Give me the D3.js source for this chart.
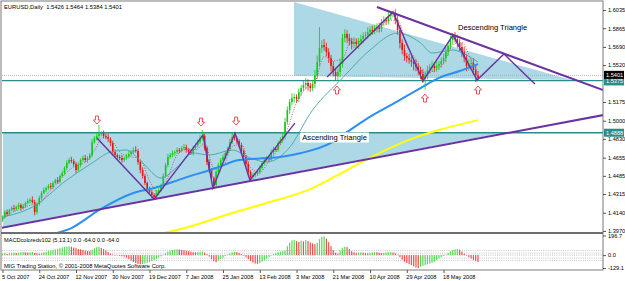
<!DOCTYPE html>
<html><head><meta charset="utf-8">
<script src="https://cdn.jsdelivr.net/npm/d3@7"></script>
<style>body{margin:0;background:#fff}svg{display:block}text{font-family:"Liberation Sans",Arial,sans-serif}</style>
</head><body><svg id="c" width="625" height="281"></svg>
<script>
// ---------------- DATA ----------------
const title = "EURUSD,Daily  1.5426 1.5464 1.5384 1.5401";
const firstOpen = 1.4080;
const closes = [
1.4100,1.4146,1.4128,1.4165,1.4184,1.4175,1.4193,1.4212,1.4184,1.4203,
1.4231,1.4249,1.4259,1.4240,1.4146,1.4221,1.4277,1.4324,1.4352,1.4371,
1.4389,1.4380,1.4418,1.4446,1.4430,1.4483,1.4511,1.4558,1.4605,1.4633,
1.4623,1.4595,1.4539,1.4586,1.4633,1.4651,1.4633,1.4651,1.4679,1.4801,
1.4838,1.4857,1.4876,1.4885,1.4857,1.4848,1.4829,1.4792,1.4707,1.4679,
1.4661,1.4651,1.4633,1.4651,1.4670,1.4689,1.4707,1.4726,1.4717,1.4614,
1.4539,1.4483,1.4418,1.4361,1.4333,1.4305,1.4287,1.4324,1.4352,1.4389,
1.4483,1.4586,1.4661,1.4679,1.4698,1.4707,1.4726,1.4720,1.4745,1.4754,
1.4726,1.4707,1.4698,1.4745,1.4773,1.4801,1.4838,1.4857,1.4745,1.4614,
1.4539,1.4464,1.4399,1.4520,1.4586,1.4633,1.4661,1.4698,1.4736,1.4801,
1.4848,1.4838,1.4810,1.4773,1.4717,1.4661,1.4595,1.4520,1.4474,1.4492,
1.4502,1.4520,1.4558,1.4605,1.4633,1.4651,1.4640,1.4707,1.4736,1.4730,
1.4792,1.4820,1.4857,1.4988,1.5100,1.5175,1.5212,1.5222,1.5205,1.5268,
1.5306,1.5334,1.5353,1.5325,1.5306,1.5343,1.5427,1.5549,1.5680,1.5708,
1.5689,1.5642,1.5586,1.5512,1.5455,1.5418,1.5455,1.5530,1.5773,1.5811,
1.5773,1.5745,1.5717,1.5736,1.5717,1.5745,1.5764,1.5792,1.5801,1.5829,
1.5848,1.5839,1.5867,1.5876,1.5860,1.5923,1.5941,1.5930,1.5979,1.5998,
1.6007,1.5941,1.5848,1.5727,1.5661,1.5605,1.5586,1.5568,1.5549,1.5530,
1.5502,1.5474,1.5437,1.5390,1.5427,1.5474,1.5502,1.5512,1.5493,1.5512,
1.5530,1.5558,1.5586,1.5642,1.5699,1.5755,1.5783,1.5764,1.5727,1.5689,
1.5642,1.5586,1.5512,1.5530,1.5540,1.5474,1.5426,1.5401];
// wick lengths in pips above max(open,close) / below min(open,close)
const wickUp = [
15,20,25,12,18,30,14,22,16,20, 12,25,18,35,20,15,22,18,25,14,
20,30,16,12,28,15,20,18,25,22, 30,18,20,25,16,22,30,18,20,25,
18,30,84,20,25,22,30,18,20,25, 15,20,28,18,22,30,20,25,35,20,
18,25,20,15,22,18,20,28,16,22, 25,20,30,18,22,16,25,20,18,28,
22,18,25,20,16,22,30,56,20,18, 25,20,16,28,22,18,25,20,22,30,
46,25,20,18,22,16,20,25,18,22, 20,16,25,18,22,20,18,25,20,16,
22,25,30,40,35,28,45,30,25,35, 30,40,45,35,30,40,50,60,196,45,
55,40,35,30,45,40,35,50,40,45, 35,40,30,45,35,30,40,35,30,45,
35,40,30,35,40,30,35,30,40,25, 12,35,45,40,35,50,30,40,35,30,
40,35,30,45,35,40,30,45,35,40, 30,35,40,45,35,40,37,45,40,35,
40,50,35,45,40,45,40,38];
const wickDown = [
25,15,20,18,12,22,16,20,25,14, 18,12,20,15,30,22,14,18,12,20,
16,22,18,14,20,16,12,20,18,14, 20,25,30,18,22,16,20,25,18,22,
16,20,25,18,22,20,28,30,25,20, 22,18,25,20,16,22,18,20,15,25,
30,25,20,28,22,25,20,18,22,20, 25,18,22,16,20,25,18,22,16,20,
25,20,18,22,16,20,18,22,25,30, 25,30,37,22,18,20,16,22,18,20,
18,22,25,20,28,22,25,30,37,20, 22,18,20,16,22,18,20,16,22,18,
20,18,25,30,25,35,30,40,35,30, 35,30,40,45,35,30,40,35,40,45,
35,40,45,50,40,38,45,50,35,40, 45,40,50,35,40,45,35,40,30,35,
40,35,30,40,35,30,40,35,30,35, 30,40,45,50,40,45,40,35,45,60,
40,45,50,37,100,40,35,45,40,35, 40,35,30,40,35,30,40,35,45,40,
45,40,50,45,40,45,64,17];
const macdHist = [
15,20,12,18,22,25,20,24,28,30, 27,25,28,31,22,18,15,20,28,35,
40,46,52,58,64,70,76,82,86,88, 84,76,70,62,58,52,46,42,40,55,
70,80,84,72,60,45,30,15,5,-5, 2,-8,-12,-15,-25,-40,-55,-68,-80,-88,
-92,-90,-85,-78,-70,-60,-50,-38,-25,-12, 5,20,35,45,52,56,58,55,52,48,
44,40,35,30,28,30,33,36,25,10, -15,-40,-60,-70,-55,-40,-25,-10,5,18,
28,32,30,22,10,-5,-20,-40,-60,-75, -85,-88,-80,-65,-50,-35,-20,-5,10,20,
28,34,40,45,90,125,148,153,140,132, 145,138,150,142,128,118,110,125,160,182,
190,165,130,90,50,25,15,45,75,85, 80,60,40,28,22,25,28,24,20,18,
22,26,30,28,24,20,22,25,28,30, 26,18,5,-20,-45,-65,-80,-92,-100,-112,
-125,-129,-118,-108,-100,-92,-85,-76,-65,-50, -35,-20,-8,5,22,38,50,58,62,55,
35,15,0,-20,-35,-48,-60,-68];
const macdLevels = [45, 20, 0, -30, -55];
const macdLabel = "MACDcoloredv102 (5,13,1) 0.0 -64.0 0.0 -64.0";
const copyright = "MIG Trading Station, \u00a9 2001-2008 MetaQuotes Software Corp.";
const macdTicks = [196.7, 0, -129.1];
const macdTickLabels = ["196.7", "0.0", "-129.1"];

// moving averages as [bar, price]
const maBlue = [[22,1.3941],[30,1.3997],[42,1.4165],[57,1.4324],[66,1.4371],[79,1.4464],[93,1.4558],[103,1.4633],[115,1.4651],[121,1.4661],[130,1.4698],[143,1.4792],[150,1.4894],[159,1.5025],[169,1.5147],[182,1.5306],[190,1.5400],[199,1.5465],[207,1.5530]];
const maYellow = [[68,1.3941],[76,1.3978],[100,1.4137],[115,1.4231],[134,1.4361],[150,1.4539],[164,1.4698],[179,1.4838],[190,1.4913],[207,1.5006]];
const maTeal = [[0,1.4100],[13,1.4193],[28,1.4446],[39,1.4605],[47,1.4707],[54,1.4726],[61,1.4605],[69,1.4464],[76,1.4567],[83,1.4698],[90,1.4679],[100,1.4726],[108,1.4651],[115,1.4614],[124,1.4726],[135,1.5100],[148,1.5400],[160,1.5661],[172,1.5820],[182,1.5727],[187,1.5633],[196,1.5661],[202,1.5614],[207,1.5549]];
const maDotted = [[0,1.4080],[4,1.4140],[8,1.4175],[12,1.4210],[16,1.4225],[20,1.4330],[24,1.4420],[28,1.4520],[32,1.4580],[36,1.4610],[40,1.4720],[44,1.4850],[48,1.4800],[52,1.4690],[56,1.4665],[60,1.4640],[64,1.4440],[68,1.4330],[72,1.4470],[76,1.4680],[80,1.4730],[84,1.4730],[88,1.4790],[92,1.4560],[96,1.4580],[100,1.4760],[104,1.4780],[108,1.4560],[112,1.4520],[116,1.4620],[120,1.4740],[124,1.4920],[128,1.5170],[132,1.5300],[136,1.5360],[140,1.5600],[144,1.5560],[148,1.5580],[152,1.5760],[156,1.5740],[160,1.5810],[164,1.5870],[168,1.5940],[172,1.5940],[176,1.5700],[180,1.5570],[184,1.5440],[188,1.5470],[192,1.5540],[196,1.5710],[200,1.5730],[204,1.5570],[207,1.5460]];

// chart objects (bar, price)
const ascFill = [[0.2,1.4888],[0.2,1.3997],[218.5,1.4888]];
const descFill = [[126.9,1.6110],[126.9,1.5418],[247.9,1.5380]];
const ascTrend = [[-1.1,1.3997],[261.5,1.5053]];
const descTrend = [[163.0,1.6063],[261.5,1.5287]];
const ascZigzag = [[41.1,1.4838],[66.0,1.4268],[87.3,1.4866],[91.6,1.4371],[101.2,1.4885],[107.7,1.4446],[127.3,1.4978]];
const descZigzag = [[141.3,1.5409],[170.0,1.6016],[183.0,1.5371],[196.1,1.5801],[206.6,1.5380],[218.3,1.5624],[231.8,1.5343]];
const hLevels = [1.5375, 1.4888];
const bidPrice = 1.5401;
const arrowsDown = [[41.1,1.4960],[86.4,1.4941],[101.7,1.4950]];
const arrowsUp = [[145.6,1.5334],[183.9,1.5259],[207.0,1.5334]];
const ascLabel = {bar:130.5, price:1.4820, text:"Ascending Triangle"};
const descLabel = {bar:198.3, price:1.5850, text:"Descending Triangle"};

// axes
const priceTicks = [1.6035,1.5865,1.5690,1.5520,1.5175,1.5000,1.4830,1.4655,1.4485,1.4315,1.4140,1.3970];
const dateTickBars = [0,16,32,48,64,80,96,112,128,144,160,176,192];
const dateTickLabels = ["5 Oct 2007","24 Oct 2007","12 Nov 2007","30 Nov 2007","19 Dec 2007","7 Jan 2008","25 Jan 2008","13 Feb 2008","3 Mar 2008","21 Mar 2008","10 Apr 2008","29 Apr 2008","18 May 2008"];

// ---------------- DRAW ----------------
const svg = d3.select('#c');
const P = {l:2, r:603, t:2, b:232};
const M = {t:234, b:270};
const x = d3.scaleLinear().domain([0,207]).range([2.5,478]);
const y = d3.scaleLinear().domain([1.3960,1.6110]).range([232,2]);
const ym = d3.scaleLinear().domain([-129.1,196.7]).range([268,235.5]);

svg.append('rect').attr('width',625).attr('height',281).attr('fill','#fff');
const defs = svg.append('defs');
defs.append('clipPath').attr('id','cp').append('rect').attr('x',P.l).attr('y',P.t).attr('width',P.r-P.l).attr('height',P.b-P.t);
defs.append('clipPath').attr('id','cm').append('rect').attr('x',P.l).attr('y',M.t).attr('width',P.r-P.l).attr('height',M.b-M.t);

const g = svg.append('g').attr('clip-path','url(#cp)');
const poly = pts => pts.map(d=>[x(d[0]),y(d[1])].join(',')).join(' ');
g.append('polygon').attr('points',poly(ascFill)).attr('fill','#add8e6');
g.append('polygon').attr('points',poly(descFill)).attr('fill','#add8e6');

// horizontal levels
hLevels.forEach(p=>{
  g.append('line').attr('x1',P.l).attr('x2',P.r).attr('y1',y(p)).attr('y2',y(p)).attr('stroke','#2b8c8c').attr('stroke-width',1.3);
});
g.append('line').attr('x1',P.l).attr('x2',P.r).attr('y1',y(bidPrice)-2.5).attr('y2',y(bidPrice)-2.5).attr('stroke','#aaa').attr('stroke-width',0.8).attr('stroke-dasharray','1,1');

const lineGen = d3.line().x(d=>x(d[0])).y(d=>y(d[1]));
const curveGen = d3.line().x(d=>x(d[0])).y(d=>y(d[1])).curve(d3.curveMonotoneX);

g.append('path').attr('d',curveGen(maYellow)).attr('fill','none').attr('stroke','#ffff00').attr('stroke-width',2);

// candles
const bars = closes.map((c,i)=>{
  const o = i===0 ? firstOpen : closes[i-1];
  return {i, o, c, h: Math.max(o,c)+wickUp[i]/10000, l: Math.min(o,c)-wickDown[i]/10000};
});
const cg = g.append('g');
bars.forEach(d=>{
  const col = d.c>=d.o ? '#18c818' : '#e81414';
  const cx = x(d.i);
  cg.append('line').attr('x1',cx).attr('x2',cx).attr('y1',y(d.h)).attr('y2',y(d.l)).attr('stroke',col).attr('stroke-width',0.8);
  const y0 = y(Math.max(d.o,d.c)), y1 = y(Math.min(d.o,d.c));
  cg.append('rect').attr('x',cx-0.8).attr('y',y0).attr('width',1.6).attr('height',Math.max(1,y1-y0)).attr('fill',col);
});

g.append('path').attr('d',curveGen(maTeal)).attr('fill','none').attr('stroke','#4aa5a0').attr('stroke-width',0.9);
g.append('path').attr('d',curveGen(maDotted)).attr('fill','none').attr('stroke','#c05050').attr('stroke-width',0.9).attr('stroke-dasharray','1,1.5');
g.append('path').attr('d',curveGen(maBlue)).attr('fill','none').attr('stroke','#2b8ff5').attr('stroke-width',2);

// trend lines & zigzags
[ascTrend,descTrend].forEach(t=>g.append('path').attr('d',lineGen(t)).attr('fill','none').attr('stroke','#6a33a0').attr('stroke-width',2));
[ascZigzag,descZigzag].forEach(t=>g.append('path').attr('d',lineGen(t)).attr('fill','none').attr('stroke','#6a33a0').attr('stroke-width',1.4));

// arrows
const downArrow = "M-1.5,-8 L1.5,-8 L1.5,-4 L3.5,-4 L0,0 L-3.5,-4 L-1.5,-4 Z";
const upArrow = "M-1.5,8 L1.5,8 L1.5,4 L3.5,4 L0,0 L-3.5,4 L-1.5,4 Z";
arrowsDown.forEach(a=>g.append('path').attr('d',downArrow).attr('transform',`translate(${x(a[0])},${y(a[1])-1})`).attr('fill','#fff').attr('stroke','#e04040').attr('stroke-width',0.9));
arrowsUp.forEach(a=>g.append('path').attr('d',upArrow).attr('transform',`translate(${x(a[0])},${y(a[1])+1})`).attr('fill','#fff').attr('stroke','#e04040').attr('stroke-width',0.9));

// labels
const at = g.append('text').attr('x',x(ascLabel.bar)).attr('y',y(ascLabel.price)).attr('font-size',7.6).attr('fill','#000').text(ascLabel.text);
const bb = at.node().getBBox();
g.insert('rect', () => at.node()).attr('x',bb.x-2).attr('y',bb.y-0.5).attr('width',bb.width+4).attr('height',bb.height+1).attr('fill','#fff');
g.append('text').attr('x',x(descLabel.bar)).attr('y',y(descLabel.price)).attr('font-size',7.6).attr('fill','#000').text(descLabel.text);

// MACD panel
const mg = svg.append('g').attr('clip-path','url(#cm)');
macdLevels.forEach(v=>mg.append('line').attr('x1',P.l).attr('x2',P.r).attr('y1',ym(v)).attr('y2',ym(v)).attr('stroke','#b8b0b8').attr('stroke-width',0.8).attr('stroke-dasharray','1,1.2'));
macdHist.forEach((v,i)=>{
  const up = i===0 ? true : v>=macdHist[i-1];
  mg.append('rect').attr('x',x(i)-0.6).attr('width',1.2)
    .attr('y',Math.min(ym(v),ym(0))).attr('height',Math.max(0.5,Math.abs(ym(v)-ym(0))))
    .attr('fill', up ? '#5ad85a' : '#f05050');
});
svg.append('text').attr('x',4).attr('y',242).attr('font-size',5.6).attr('fill','#000').text(macdLabel);
svg.append('text').attr('x',4).attr('y',267.5).attr('font-size',5.8).attr('fill','#000').text(copyright);

// frames
svg.append('rect').attr('x',1).attr('y',1).attr('width',P.r-1).attr('height',M.b-1).attr('fill','none').attr('stroke','#7a7a7a').attr('stroke-width',1);
svg.append('line').attr('x1',1).attr('x2',P.r).attr('y1',233).attr('y2',233).attr('stroke','#6e6e6e').attr('stroke-width',2);

// title
svg.append('text').attr('x',4).attr('y',9).attr('font-size',5.8).attr('fill','#000').style('white-space','pre').text(title);

// right price axis
const ay = svg.append('g').attr('transform',`translate(${P.r},0)`)
  .call(d3.axisRight(y).tickValues(priceTicks).tickFormat(d3.format('.4f')).tickSize(3).tickPadding(2));
ay.select('.domain').remove();
ay.selectAll('line').attr('stroke','#555');
ay.selectAll('text').attr('font-size',5.6).attr('fill','#000').attr('font-family','"Liberation Sans",Arial,sans-serif');

// price boxes
function box(p, label, bg, dy){
  const yy = y(p)+dy;
  svg.append('rect').attr('x',P.r+1).attr('y',yy-4).attr('width',20).attr('height',8).attr('fill',bg);
  svg.append('text').attr('x',P.r+3).attr('y',yy+2).attr('font-size',5.6).attr('fill','#fff').text(label);
}
box(hLevels[1], d3.format('.4f')(hLevels[1]), '#2b8c8c', 0);
box(hLevels[0], d3.format('.4f')(hLevels[0]), '#2b8c8c', 0.8);
box(bidPrice, d3.format('.4f')(bidPrice), '#000', -3);

// MACD axis
const am = svg.append('g').attr('transform',`translate(${P.r},0)`)
  .call(d3.axisRight(ym).tickValues(macdTicks).tickFormat((d,i)=>macdTickLabels[i]).tickSize(3).tickPadding(2));
am.select('.domain').remove();
am.selectAll('line').attr('stroke','#555');
am.selectAll('text').attr('font-size',5.6).attr('fill','#000').attr('font-family','"Liberation Sans",Arial,sans-serif');

// date axis
const ax = svg.append('g').attr('transform',`translate(0,${M.b})`)
  .call(d3.axisBottom(x).tickValues(dateTickBars).tickFormat((d,i)=>dateTickLabels[i]).tickSize(3).tickPadding(2));
ax.select('.domain').remove();
ax.selectAll('line').attr('stroke','#555');
ax.selectAll('text').attr('font-size',5.6).attr('fill','#000').attr('text-anchor','start').attr('dx',-1).attr('font-family','"Liberation Sans",Arial,sans-serif');
</script></body></html>
